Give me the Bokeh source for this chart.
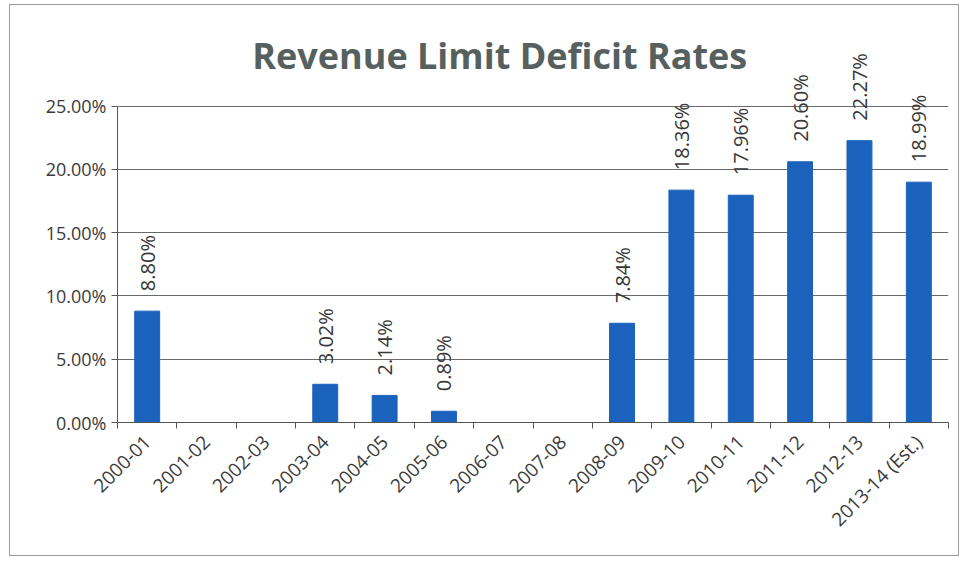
import numpy as np
from bokeh.plotting import figure
from bokeh.models import ColumnDataSource, LabelSet, Label, FixedTicker, PrintfTickFormatter, Range1d
from bokeh.core.properties import value
from bokeh.embed import file_html
from bokeh.resources import INLINE

years = ["2000-01", "2001-02", "2002-03", "2003-04", "2004-05", "2005-06", "2006-07",
         "2007-08", "2008-09", "2009-10", "2010-11", "2011-12", "2012-13", "2013-14 (Est.)"]
rates = [8.80, 0, 0, 3.02, 2.14, 0.89, 0, 0, 7.84, 18.36, 17.96, 20.60, 22.27, 18.99]
y_ticks = [0, 5, 10, 15, 20, 25]
title_text = "Revenue Limit Deficit Rates"

n = len(years)
xs = [i + 0.5 for i in range(n)]

p = figure(width=950, height=552, output_backend="svg", toolbar_location=None,
           x_range=Range1d(0, n), y_range=Range1d(0, 32.0),
           min_border_left=107, min_border_right=12, min_border_top=12, min_border_bottom=135)
p.styles = {"border": "1px solid #9a9a9a", "margin": "4px 0px 0px 9px"}

title = Label(x=6.44, y=28.96, text=title_text, text_align="center", text_baseline="middle",
              text_font="Open Sans", text_font_size="36px", text_font_style="bold",
              text_color="#56605f")
p.add_layout(title)

src = ColumnDataSource(dict(x=xs, y=rates))
p.vbar(x="x", top="y", width=0.42, bottom=0, source=src, color="#1b62bd")

nz = [i for i, v in enumerate(rates) if v > 0]
lsrc = ColumnDataSource(dict(x=[xs[i] for i in nz], y=[rates[i] for i in nz],
                             lab=[f"{rates[i]:.2f}%" for i in nz]))
labels = LabelSet(x="x", y="y", text="lab", source=lsrc, angle=np.pi / 2,
                  text_align="left", text_baseline="middle", y_offset=20,
                  text_font=value("Open Sans"), text_font_size="20px", text_color="#383838")
p.add_layout(labels)

p.xaxis.ticker = FixedTicker(ticks=xs, minor_ticks=list(range(n + 1)))
p.xaxis.major_label_overrides = {x: y for x, y in zip(xs, years)}
p.xaxis.major_label_orientation = np.pi / 4
p.xaxis.major_label_standoff = 10
p.xaxis.major_tick_out = 0
p.xaxis.major_tick_in = 0
p.xaxis.minor_tick_out = 6
p.xaxis.minor_tick_in = 0
p.xaxis.major_label_text_font = "Open Sans"
p.xaxis.major_label_text_font_size = "19px"
p.xaxis.major_label_text_color = "#3a3a3a"
p.xaxis.axis_line_color = "#555555"
p.xaxis.minor_tick_line_color = "#555555"

p.yaxis.ticker = FixedTicker(ticks=y_ticks)
p.yaxis.bounds = (0, 25)
p.yaxis.formatter = PrintfTickFormatter(format="%.2f%%")
p.yaxis.minor_tick_line_color = None
p.yaxis.major_tick_out = 6
p.yaxis.major_tick_in = 0
p.yaxis.major_label_text_font = "Open Sans"
p.yaxis.major_label_text_font_size = "18px"
p.yaxis.major_label_text_color = "#3a3a3a"
p.yaxis.axis_line_color = "#555555"
p.yaxis.major_tick_line_color = "#555555"

p.xgrid.grid_line_color = None
p.ygrid.grid_line_color = "#6a6a6a"
p.ygrid.grid_line_width = 1
p.outline_line_color = None

open("out.html", "w").write(file_html(p, INLINE))
